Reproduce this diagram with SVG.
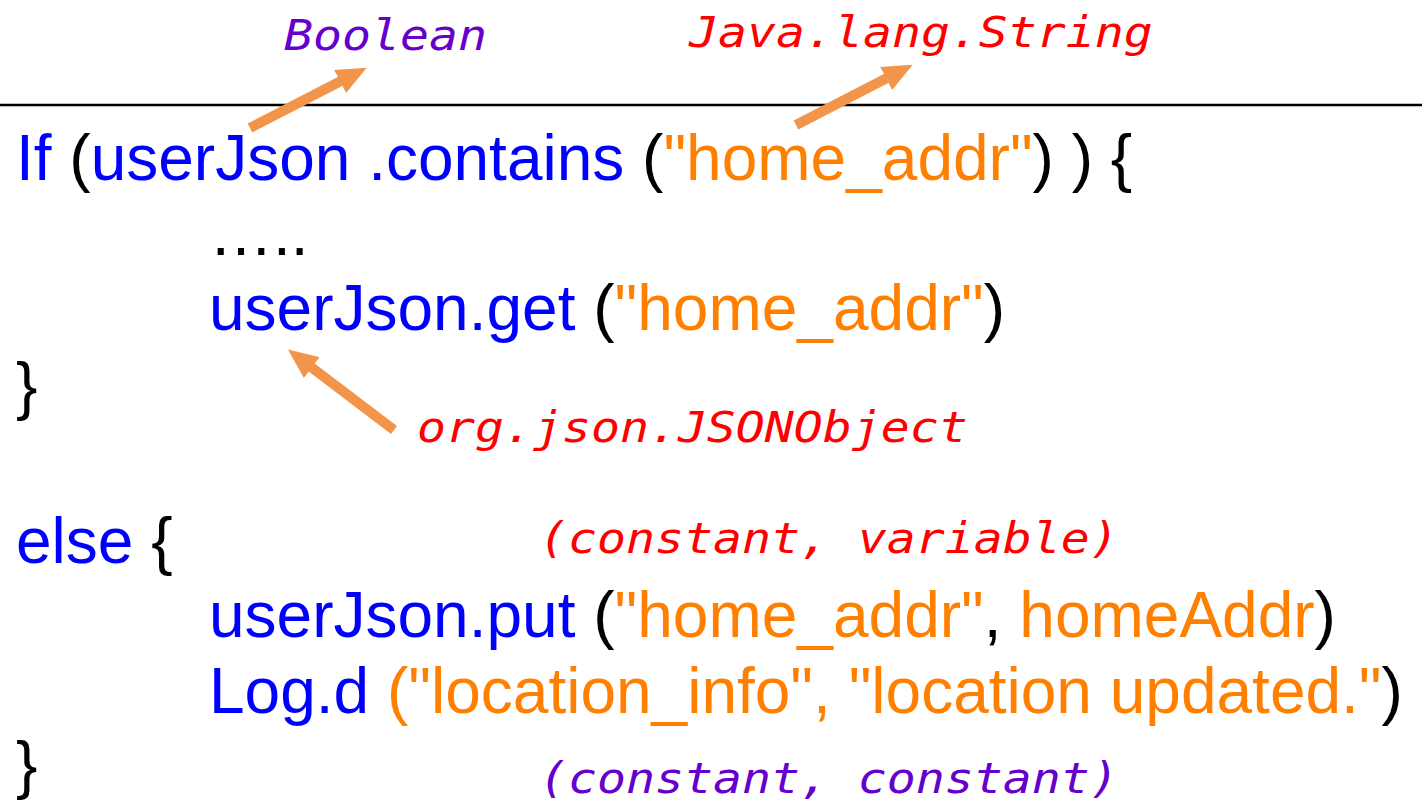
<svg xmlns="http://www.w3.org/2000/svg" width="1422" height="801" viewBox="0 0 1422 801">
<style>
.code{font-family:"Liberation Sans",Arial,sans-serif;font-size:64px;fill:#000}
.b{fill:#0000FF}
.o{fill:#FF8000}
.k{fill:#000000}
.lbl{font-family:"DejaVu Sans Mono","Liberation Mono",monospace;font-style:italic;font-size:43px}
.red{fill:#FF0000}
.pur{fill:#6600CC}
.arr{stroke:#F2954A;stroke-width:10;fill:none}
</style>
<defs>
<marker id="ah" viewBox="0 0 30 26" refX="1" refY="13" markerWidth="30" markerHeight="26" orient="auto" markerUnits="userSpaceOnUse">
<path d="M0,0 L30,13 L0,26 z" fill="#F2954A"/>
</marker>
</defs>
<rect width="1422" height="801" fill="#FFFFFF"/>
<line x1="0" y1="105" x2="1422" y2="105" stroke="#000" stroke-width="2.5"/>
<g id="code" class="code" xml:space="preserve">
<text id="line1" x="16" y="180"><tspan class="b">If </tspan><tspan class="k">(</tspan><tspan class="b">userJson .contains </tspan><tspan class="k">(</tspan><tspan class="o">"home_addr"</tspan><tspan class="k">) ) {</tspan></text>
<text id="line2" x="209" y="255" class="k">…..</text>
<text id="line3" x="209" y="330"><tspan class="b">userJson.get </tspan><tspan class="k">(</tspan><tspan class="o">"home_addr"</tspan><tspan class="k">)</tspan></text>
<text id="line4" x="16" y="408" class="k">}</text>
<text id="line6" x="16" y="563"><tspan class="b">else </tspan><tspan class="k">{</tspan></text>
<text id="line7" x="209" y="637"><tspan class="b">userJson.put </tspan><tspan class="k">(</tspan><tspan class="o">"home_addr"</tspan><tspan class="k">, </tspan><tspan class="o">homeAddr</tspan><tspan class="k">)</tspan></text>
<text id="line8" x="209" y="713"><tspan class="b">Log.d </tspan><tspan class="o">("location_info", "location updated."</tspan><tspan class="k">)</tspan></text>
<text id="line9" x="16" y="787" class="k">}</text>
</g>
<g id="label-boolean" transform="translate(284,50) scale(1.12,1)"><text class="lbl pur" x="0" y="0">Boolean</text></g>
<g id="label-string" transform="translate(689,47) scale(1.12,1)"><text class="lbl red" x="0" y="0">Java.lang.String</text></g>
<g id="label-jsonobject" transform="translate(417,442) scale(1.12,1)"><text class="lbl red" x="0" y="0">org.json.JSONObject</text></g>
<g id="label-constvar" transform="translate(539,553) scale(1.12,1)"><text class="lbl red" x="0" y="0">(constant, variable)</text></g>
<g id="label-constconst" transform="translate(539,793) scale(1.12,1)"><text class="lbl pur" x="0" y="0">(constant, constant)</text></g>
<g id="connectors">
<line class="arr" x1="250" y1="128" x2="341" y2="81" marker-end="url(#ah)"/>
<line class="arr" x1="796" y1="125" x2="887" y2="78" marker-end="url(#ah)"/>
<line class="arr" x1="394" y1="430" x2="311" y2="367" marker-end="url(#ah)"/>
</g>
</svg>
